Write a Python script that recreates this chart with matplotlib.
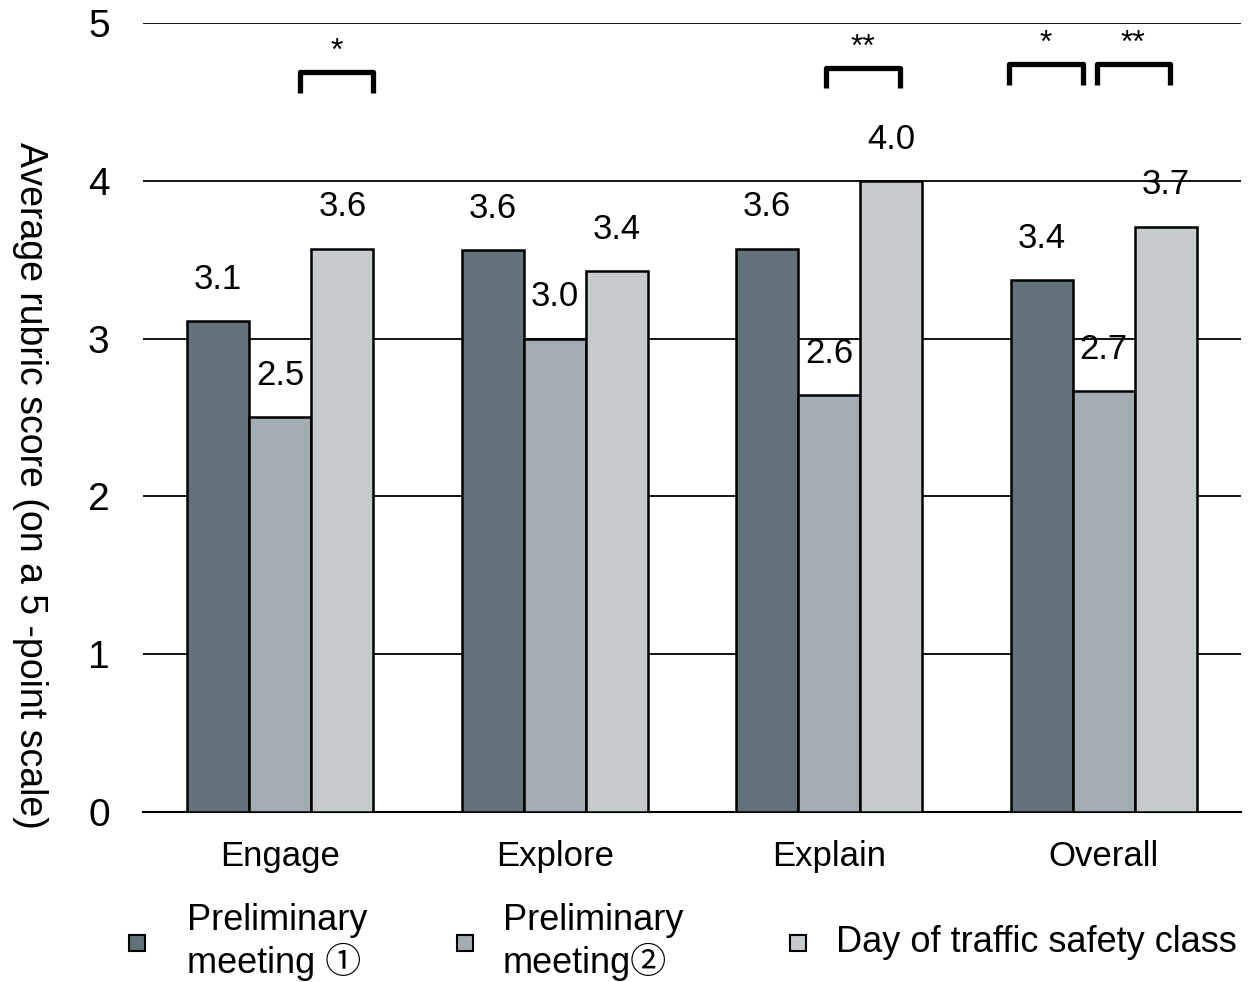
import numpy as np
import matplotlib.pyplot as plt
from matplotlib.patches import Rectangle

plt.rcParams['font.family'] = ['Liberation Sans', 'Noto Sans CJK JP', 'DejaVu Sans']

# Average rubric scores per phase
categories = ["Engage", "Explore", "Explain", "Overall"]
meeting1 = [3.11, 3.56, 3.57, 3.37]
meeting2 = [2.50, 3.00, 2.64, 2.67]
class_day = [3.57, 3.43, 4.00, 3.71]
series_names = ["Preliminary\nmeeting \u2460", "Preliminary\nmeeting\u2461",
                "Day of traffic safety class"]
colors = ["#637179", "#a3acb1", "#c6ccce"]

fig = plt.figure(figsize=(12.53, 9.82), dpi=100)
ax = fig.add_axes([0.1141, 0.1731, 0.8763, 0.8035])

x = np.arange(len(categories))
w = 0.226
for i, vals in enumerate([meeting1, meeting2, class_day]):
    pos = x + (i - 1) * w
    ax.bar(pos, vals, width=w, color=colors[i], edgecolor="black",
           linewidth=1.8, zorder=3)
    for px, v in zip(pos, vals):
        ax.annotate(f"{v:.1f}", (px, v), xytext=(0, 30),
                    textcoords="offset points", ha="center", va="center",
                    fontsize=25, zorder=4)

ax.set_xlim(-0.5, 3.5)
ax.set_ylim(0, 5)
ax.set_yticks(range(6))
ax.yaxis.grid(True, color="black", linewidth=1.3, zorder=0)
ax.set_axisbelow(True)
for s in ["top", "right", "left"]:
    ax.spines[s].set_visible(False)
ax.spines["bottom"].set_linewidth(1.5)
ax.set_xticks(x)
ax.set_xticklabels(categories, fontsize=25)
ax.tick_params(axis="x", length=0, pad=20)
ax.tick_params(axis="y", length=0, pad=24, labelsize=28)

ax.set_ylabel("Average rubric score (on a 5 -point scale)", fontsize=27,
              rotation=-90, va="center")
ax.yaxis.set_label_coords(-0.103, 0.414)

# significance brackets: (left, right, leg bottom, top, stars)
brackets = [
    (0.073, 0.339, 4.556, 4.69, "*"),
    (1.989, 2.259, 4.59, 4.715, "**"),
    (2.654, 2.925, 4.61, 4.74, "*"),
    (2.974, 3.240, 4.61, 4.74, "**"),
]
for x0, x1, yb, yt, lab in brackets:
    ax.plot([x0, x0, x1, x1], [yb, yt, yt, yb], color="black", lw=3.8,
            solid_joinstyle="round", solid_capstyle="butt", zorder=4)
    ax.text((x0 + x1) / 2, yt + 0.03, lab, ha="center", va="bottom",
            fontsize=23)

# legend row
W, H = 1253, 982
legend_items = [(137, 187), (465, 503), (798, 836)]
for (mx, tx), name, c in zip(legend_items, series_names, colors):
    fig.patches.append(Rectangle(((mx - 8) / W, 1 - 951 / H), 16 / W, 16 / H,
                                 transform=fig.transFigure, facecolor=c,
                                 edgecolor="black", linewidth=1.5))
    fig.text(tx / W, 1 - 942 / H, name, fontsize=26, ha="left", va="center",
             linespacing=1.15)

fig.savefig("out.png", dpi=100)
